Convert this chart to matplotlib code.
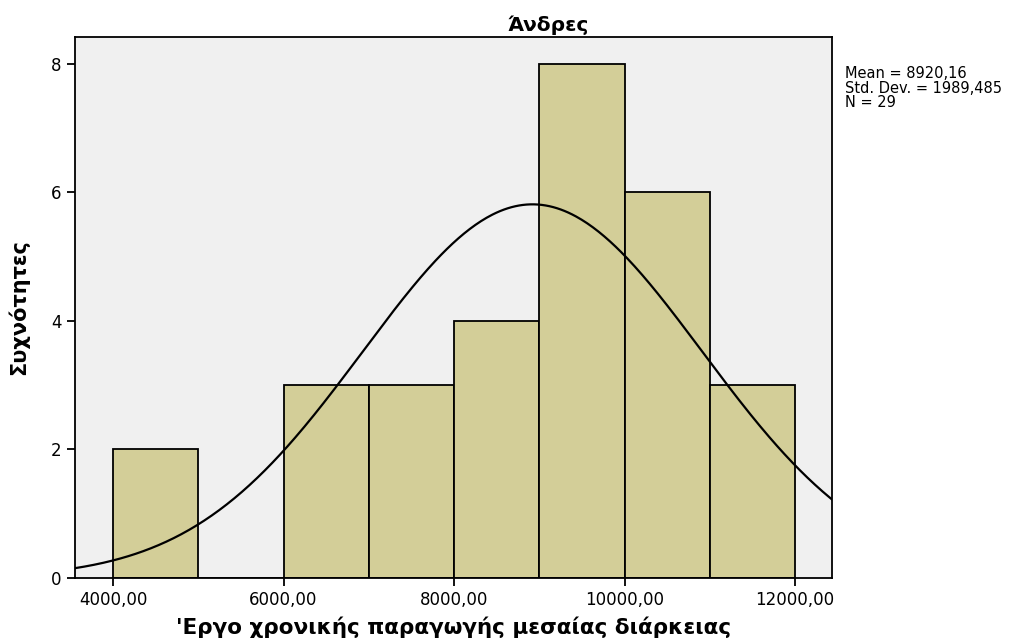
import numpy as np
import matplotlib
matplotlib.use("Agg")
import matplotlib.pyplot as plt

plt.rcParams['font.family'] = ['DejaVu Sans']

# histogram bins and counts
bin_edges = [4000, 5000, 6000, 7000, 8000, 9000, 10000, 11000, 12000]
counts = [2, 0, 3, 3, 4, 8, 6, 3]
mean = 8920.16
std = 1989.485
n = 29

xticks = [4000, 6000, 8000, 10000, 12000]
xtick_labels = ["4000,00", "6000,00", "8000,00", "10000,00", "12000,00"]
yticks = [0, 2, 4, 6, 8]

fig = plt.figure(figsize=(10.32, 6.43), dpi=100)
ax = fig.add_axes([0.0727, 0.1011, 0.7335, 0.8414])
ax.set_facecolor('#f0f0f0')

widths = np.diff(bin_edges)
ax.bar(bin_edges[:-1], counts, width=widths, align='edge',
       color='#d3ce98', edgecolor='black', linewidth=1.3, zorder=2)

# normal curve scaled to counts
bw = widths[0]
xs = np.linspace(3554, 12434, 400)
ys = n * bw / (std * np.sqrt(2 * np.pi)) * np.exp(-0.5 * ((xs - mean) / std) ** 2)
ax.plot(xs, ys, color='black', linewidth=1.6, zorder=3)

ax.set_xlim(3554, 12434)
ax.set_ylim(0, 8.42)
ax.set_xticks(xticks)
ax.set_xticklabels(xtick_labels)
ax.set_yticks(yticks)
ax.tick_params(axis='both', labelsize=12, length=6, width=1.3, colors='black')
for s in ax.spines.values():
    s.set_linewidth(1.3)

fig.text(548 / 1032, 1 - 25 / 643, "Άνδρες", fontsize=14.5, fontweight='bold',
         ha='center', va='center')
ax.set_xlabel("'Εργο χρονικής παραγωγής μεσαίας διάρκειας", fontsize=15.5,
              fontweight='bold')
ax.xaxis.set_label_coords(0.5, -0.072)
ax.set_ylabel("Συχνότητες", fontsize=15, fontweight='bold', labelpad=16)

fig.text(0.819, 0.897, "Mean = 8920,16\nStd. Dev. = 1989,485\nN = 29",
         fontsize=10.5, va='top', ha='left', linespacing=0.95)

fig.savefig("out.png", dpi=100)
